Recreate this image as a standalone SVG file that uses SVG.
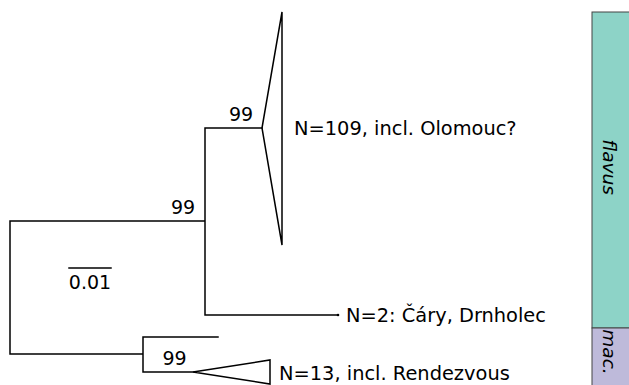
<svg xmlns="http://www.w3.org/2000/svg" width="629" height="385" viewBox="0 0 629 385">
<style>
.e{fill:none;stroke:#000;stroke-width:1.5;stroke-linecap:square}
.t{font-family:"DejaVu Sans",sans-serif;font-size:19.4px;fill:#000}
.n{font-family:"DejaVu Sans",sans-serif;font-size:19px;fill:#000}
.i{font-family:"DejaVu Sans",sans-serif;font-size:18.5px;font-style:italic;fill:#000}
.b{stroke:#444;stroke-width:1}
</style>
<rect width="629" height="385" fill="#fff"/>
<g id="connectors">
<path class="e" d="M10,221 V354 M10,221 H205 M10,354 H143 M205,128 V315 M205,128 H262 M205,315 H338 M143,337 V372 M143,337 H218 M143,372 H193"/>
<circle cx="338" cy="315" r="1.3" fill="#000"/>
</g>
<g id="clade-flavus-main">
<polygon class="e" points="262,128 282,12 282,245"/>
<text class="t" x="294" y="135">N=109, incl. Olomouc?</text>
</g>
<g id="clade-drnholec">
<text class="t" x="346" y="322">N=2: Čáry, Drnholec</text>
</g>
<g id="clade-rendezvous">
<polygon class="e" points="193,372 270,360 270,384"/>
<text class="t" x="279" y="380">N=13, incl. Rendezvous</text>
</g>
<g id="support">
<text class="n" x="241" y="121" text-anchor="middle">99</text>
<text class="n" x="183" y="214" text-anchor="middle">99</text>
<text class="n" x="174.5" y="365" text-anchor="middle">99</text>
</g>
<g id="scalebar">
<line class="e" x1="69" y1="268" x2="111" y2="268" stroke-linecap="butt"/>
<text class="n" x="90" y="289" text-anchor="middle">0.01</text>
</g>
<g id="bar-flavus">
<rect class="b" x="592" y="12" width="40" height="316" fill="#8dd3c7"/>
<text class="i" transform="translate(603,167) rotate(90)" text-anchor="middle">flavus</text>
</g>
<g id="bar-mac">
<rect class="b" x="592" y="328" width="40" height="60" fill="#bebada"/>
<text class="i" transform="translate(603,352) rotate(90)" text-anchor="middle">mac.</text>
</g>
</svg>
